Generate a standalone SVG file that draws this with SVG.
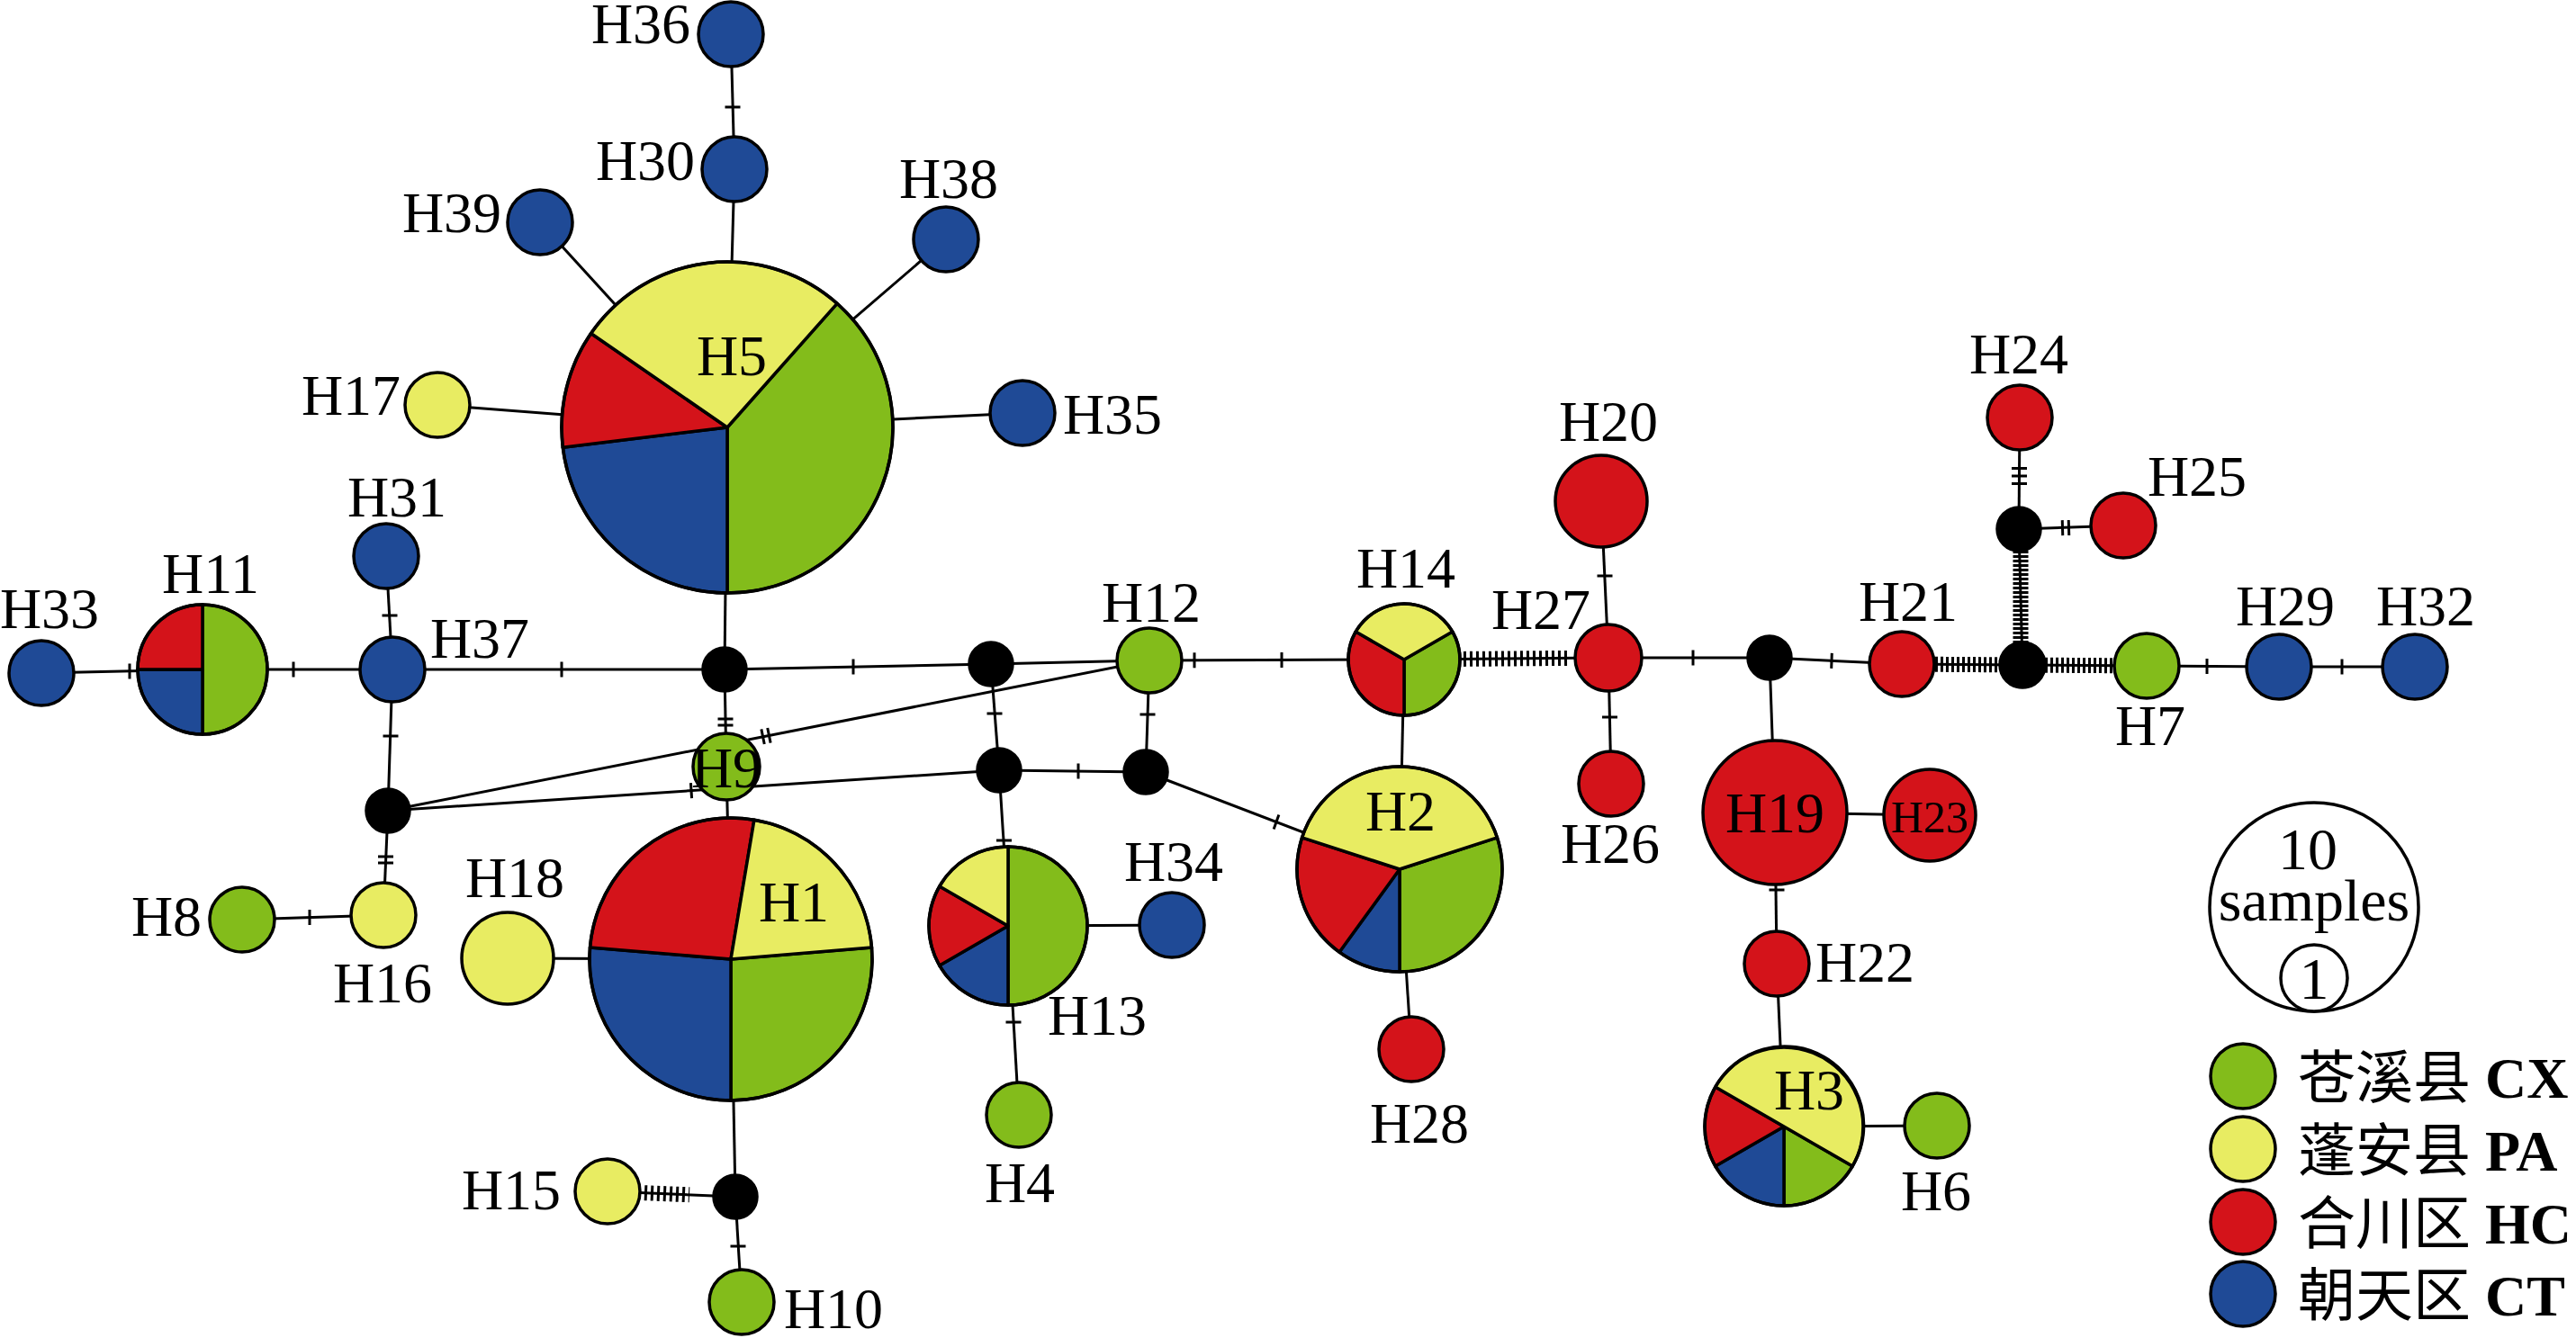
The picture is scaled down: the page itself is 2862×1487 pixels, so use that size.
<svg xmlns="http://www.w3.org/2000/svg" width="2862" height="1487" viewBox="0 0 2862 1487">
<style>
.e{stroke:#000;stroke-width:3;fill:none}
.t{stroke:#000;stroke-width:17;fill:none}
.n circle,.n path{stroke:#000;stroke-width:3.5;stroke-linejoin:round}
.g{fill:#83BC1B}.y{fill:#E8EC62}.r{fill:#D4131A}.b{fill:#1F4A96}.k{fill:#000}.w{fill:#fff}
.o{fill:none}
text{font-family:"Liberation Serif","Times New Roman",serif;font-size:64px;fill:#000;text-anchor:middle}
.lg{font-size:66px}
.cj{font-family:"Liberation Serif","Noto Sans CJK SC",serif;text-anchor:start}
</style>
<rect width="2862" height="1487" fill="#fff"/>
<g id="connectors">
<line class="e" x1="812" y1="38" x2="816" y2="188"/>
<line class="e" x1="816" y1="188" x2="808" y2="475"/>
<line class="e" x1="600" y1="247" x2="808" y2="475"/>
<line class="e" x1="1051" y1="266" x2="808" y2="475"/>
<line class="e" x1="486" y1="450" x2="808" y2="475"/>
<line class="e" x1="1136" y1="459" x2="808" y2="475"/>
<line class="e" x1="808" y1="475" x2="805" y2="744"/>
<line class="e" x1="805" y1="744" x2="807" y2="852"/>
<line class="e" x1="807" y1="852" x2="812" y2="1066"/>
<line class="e" x1="805" y1="744" x2="436" y2="744"/>
<line class="e" x1="436" y1="744" x2="225" y2="744"/>
<line class="e" x1="225" y1="744" x2="46" y2="748"/>
<line class="e" x1="436" y1="744" x2="429" y2="618"/>
<line class="e" x1="436" y1="744" x2="431" y2="901"/>
<line class="e" x1="431" y1="901" x2="426" y2="1017"/>
<line class="e" x1="426" y1="1017" x2="269" y2="1022"/>
<line class="e" x1="431" y1="901" x2="1277" y2="734"/>
<line class="e" x1="431" y1="901" x2="1110" y2="856"/>
<line class="e" x1="805" y1="744" x2="1101" y2="738"/>
<line class="e" x1="1101" y1="738" x2="1277" y2="734"/>
<line class="e" x1="1101" y1="738" x2="1110" y2="856"/>
<line class="e" x1="1110" y1="856" x2="1273" y2="858"/>
<line class="e" x1="1277" y1="734" x2="1273" y2="858"/>
<line class="e" x1="1110" y1="856" x2="1116" y2="950"/>
<line class="e" x1="1120" y1="1029" x2="1302" y2="1028"/>
<line class="e" x1="1120" y1="1029" x2="1132" y2="1239"/>
<line class="e" x1="1273" y1="858" x2="1555" y2="966"/>
<line class="e" x1="1277" y1="734" x2="1560" y2="733"/>
<line class="e" x1="1560" y1="733" x2="1555" y2="966"/>
<line class="e" x1="1555" y1="966" x2="1568" y2="1166"/>
<line class="e" x1="1560" y1="733" x2="1787" y2="731"/>
<line class="e" x1="1787" y1="731" x2="1779" y2="557"/>
<line class="e" x1="1787" y1="731" x2="1790" y2="871"/>
<line class="e" x1="1787" y1="731" x2="1966" y2="731"/>
<line class="e" x1="1966" y1="731" x2="2113" y2="738"/>
<line class="e" x1="1966" y1="731" x2="1972" y2="903"/>
<line class="e" x1="1972" y1="903" x2="2144" y2="906"/>
<line class="e" x1="1972" y1="903" x2="1974" y2="1071"/>
<line class="e" x1="1974" y1="1071" x2="1982" y2="1252"/>
<line class="e" x1="1982" y1="1252" x2="2152" y2="1251"/>
<line class="e" x1="2113" y1="738" x2="2247" y2="739"/>
<line class="e" x1="2247" y1="739" x2="2385" y2="740"/>
<line class="e" x1="2247" y1="739" x2="2243" y2="588"/>
<line class="e" x1="2243" y1="588" x2="2244" y2="464"/>
<line class="e" x1="2243" y1="588" x2="2359" y2="584"/>
<line class="e" x1="2385" y1="740" x2="2532" y2="741"/>
<line class="e" x1="2532" y1="741" x2="2683" y2="741"/>
<line class="e" x1="812" y1="1066" x2="817" y2="1330"/>
<line class="e" x1="817" y1="1330" x2="675" y2="1324"/>
<line class="e" x1="817" y1="1330" x2="824" y2="1447"/>
<line class="e" x1="564" y1="1065" x2="812" y2="1066"/>
<!-- mutation ticks -->
<line class="t" x1="814" y1="117.5" x2="814" y2="120.5"/>
<line class="t" x1="806" y1="797.5" x2="806" y2="807.5" stroke-dasharray="3 4"/>
<line class="t" x1="622.5" y1="744" x2="625.5" y2="744"/>
<line class="t" x1="324.5" y1="744" x2="327.5" y2="744"/>
<line class="t" x1="142.5" y1="746" x2="145.5" y2="746"/>
<line class="t" x1="433" y1="682.5" x2="433" y2="685.5"/>
<line class="t" x1="434" y1="816.5" x2="434" y2="819.5"/>
<line class="t" x1="428.5" y1="950.5" x2="428.5" y2="960.5" stroke-dasharray="3 4"/>
<line class="t" x1="342.5" y1="1019.5" x2="345.5" y2="1019.5"/>
<line class="t" x1="846.1" y1="819" x2="855.9" y2="817" stroke-dasharray="3 4"/>
<line class="t" x1="766.5" y1="878.8" x2="769.5" y2="878.6"/>
<line class="t" x1="946.5" y1="741" x2="949.5" y2="741"/>
<line class="t" x1="1105" y1="791.5" x2="1105" y2="794.5"/>
<line class="t" x1="1196.5" y1="857" x2="1199.5" y2="857"/>
<line class="t" x1="1275" y1="792.5" x2="1275" y2="795.5"/>
<line class="t" x1="1115.5" y1="932.5" x2="1115.5" y2="935.5"/>
<line class="t" x1="1126" y1="1134.5" x2="1126" y2="1137.5"/>
<line class="t" x1="1416.6" y1="913" x2="1419.4" y2="914"/>
<line class="t" x1="1325.5" y1="733.8" x2="1328.5" y2="733.8"/>
<line class="t" x1="1422.5" y1="733.5" x2="1425.5" y2="733.5"/>
<line class="t" x1="1626" y1="732.4" x2="1742" y2="731.4" stroke-dasharray="3 4"/>
<line class="t" x1="1783" y1="638.5" x2="1783" y2="641.5"/>
<line class="t" x1="1788.5" y1="795.5" x2="1788.5" y2="798.5"/>
<line class="t" x1="1879.5" y1="731" x2="1882.5" y2="731"/>
<line class="t" x1="2033.5" y1="734.3" x2="2036.5" y2="734.4"/>
<line class="t" x1="1974" y1="987.5" x2="1974" y2="990.5"/>
<line class="t" x1="2150" y1="738.3" x2="2224" y2="738.8" stroke-dasharray="3 3"/>
<line class="t" x1="2272" y1="739.2" x2="2348" y2="739.7" stroke-dasharray="3 3"/>
<line class="t" x1="2245" y1="612" x2="2245" y2="716" stroke-dasharray="3 2" stroke-width="20"/>
<line class="t" x1="2243.5" y1="519" x2="2243.5" y2="539" stroke-dasharray="3 5.5"/>
<line class="t" x1="2290" y1="586.7" x2="2300" y2="586.4" stroke-dasharray="3 4"/>
<line class="t" x1="2450.5" y1="740.5" x2="2453.5" y2="740.5"/>
<line class="t" x1="2600.5" y1="741" x2="2603.5" y2="741"/>
<line class="t" x1="716" y1="1325.7" x2="766" y2="1327.8" stroke-dasharray="3 4"/>
<line class="t" x1="820" y1="1383.5" x2="820" y2="1386.5"/>
</g>
<g id="H36" class="n"><circle class="b" cx="812" cy="38" r="36"/></g>
<g id="H30" class="n"><circle class="b" cx="816" cy="188" r="36"/></g>
<g id="H39" class="n"><circle class="b" cx="600" cy="247" r="36"/></g>
<g id="H38" class="n"><circle class="b" cx="1051" cy="266" r="36"/></g>
<g id="H5" class="n">
<path class="g" d="M808,475 L930,337.3 A184,184 0 0 1 808,659 Z"/>
<path class="b" d="M808,475 L808,659 A184,184 0 0 1 625.3,497.2 Z"/>
<path class="r" d="M808,475 L625.3,497.2 A184,184 0 0 1 656.6,370.5 Z"/>
<path class="y" d="M808,475 L656.6,370.5 A184,184 0 0 1 930,337.3 Z"/>
<circle class="o" cx="808" cy="475" r="184"/>
</g>
<g id="H17" class="n"><circle class="y" cx="486" cy="450" r="36"/></g>
<g id="H35" class="n"><circle class="b" cx="1136" cy="459" r="36"/></g>
<g id="H31" class="n"><circle class="b" cx="429" cy="618" r="36"/></g>
<g id="H33" class="n"><circle class="b" cx="46" cy="748" r="36"/></g>
<g id="H11" class="n">
<path class="g" d="M225,744 L225,672 A72,72 0 0 1 225,816 Z"/>
<path class="b" d="M225,744 L225,816 A72,72 0 0 1 153,744 Z"/>
<path class="r" d="M225,744 L153,744 A72,72 0 0 1 225,672 Z"/>
<circle class="o" cx="225" cy="744" r="72"/>
</g>
<g id="H37" class="n"><circle class="b" cx="436" cy="744" r="36"/></g>
<g id="mvA" class="n"><circle class="k" cx="805" cy="744" r="24"/></g>
<g id="mvD" class="n"><circle class="k" cx="1101" cy="738" r="24"/></g>
<g id="H12" class="n"><circle class="g" cx="1277" cy="734" r="36"/></g>
<g id="H14" class="n">
<path class="g" d="M1560,733 L1613.7,702 A62,62 0 0 1 1560,795 Z"/>
<path class="r" d="M1560,733 L1560,795 A62,62 0 0 1 1506.3,702 Z"/>
<path class="y" d="M1560,733 L1506.3,702 A62,62 0 0 1 1613.7,702 Z"/>
<circle class="o" cx="1560" cy="733" r="62"/>
</g>
<g id="H27" class="n"><circle class="r" cx="1787" cy="731" r="37"/></g>
<g id="H20" class="n"><circle class="r" cx="1779" cy="557" r="51"/></g>
<g id="H26" class="n"><circle class="r" cx="1790" cy="871" r="36"/></g>
<g id="mvF" class="n"><circle class="k" cx="1966" cy="731" r="24"/></g>
<g id="H21" class="n"><circle class="r" cx="2113" cy="738" r="36"/></g>
<g id="mvG" class="n"><circle class="k" cx="2247" cy="739" r="25"/></g>
<g id="mvH" class="n"><circle class="k" cx="2243" cy="588" r="24"/></g>
<g id="H24" class="n"><circle class="r" cx="2244" cy="464" r="36"/></g>
<g id="H25" class="n"><circle class="r" cx="2359" cy="584" r="36"/></g>
<g id="H7" class="n"><circle class="g" cx="2385" cy="740" r="36"/></g>
<g id="H29" class="n"><circle class="b" cx="2532" cy="741" r="36"/></g>
<g id="H32" class="n"><circle class="b" cx="2683" cy="741" r="36"/></g>
<g id="H9" class="n"><circle class="g" cx="807" cy="852" r="37"/></g>
<g id="mvB" class="n"><circle class="k" cx="431" cy="901" r="24"/></g>
<g id="mvC" class="n"><circle class="k" cx="1110" cy="856" r="24"/></g>
<g id="mvE" class="n"><circle class="k" cx="1273" cy="858" r="24"/></g>
<g id="H1" class="n">
<path class="g" d="M812,1066 L968.5,1053.1 A157,157 0 0 1 812,1223 Z"/>
<path class="b" d="M812,1066 L812,1223 A157,157 0 0 1 655.5,1053.1 Z"/>
<path class="r" d="M812,1066 L655.5,1053.1 A157,157 0 0 1 837.9,911.2 Z"/>
<path class="y" d="M812,1066 L837.9,911.2 A157,157 0 0 1 968.5,1053.1 Z"/>
<circle class="o" cx="812" cy="1066" r="157"/>
</g>
<g id="H18" class="n"><circle class="y" cx="564" cy="1065" r="51"/></g>
<g id="H16" class="n"><circle class="y" cx="426" cy="1017" r="36"/></g>
<g id="H8" class="n"><circle class="g" cx="269" cy="1022" r="36"/></g>
<g id="H13" class="n">
<path class="g" d="M1120,1029 L1120,941 A88,88 0 0 1 1120,1117 Z"/>
<path class="b" d="M1120,1029 L1120,1117 A88,88 0 0 1 1043.8,1073 Z"/>
<path class="r" d="M1120,1029 L1043.8,1073 A88,88 0 0 1 1043.8,985 Z"/>
<path class="y" d="M1120,1029 L1043.8,985 A88,88 0 0 1 1120,941 Z"/>
<circle class="o" cx="1120" cy="1029" r="88"/>
</g>
<g id="H34" class="n"><circle class="b" cx="1302" cy="1028" r="36"/></g>
<g id="H4" class="n"><circle class="g" cx="1132" cy="1239" r="36"/></g>
<g id="H2" class="n">
<path class="g" d="M1555,966 L1663.4,930.8 A114,114 0 0 1 1555,1080 Z"/>
<path class="b" d="M1555,966 L1555,1080 A114,114 0 0 1 1488,1058.2 Z"/>
<path class="r" d="M1555,966 L1488,1058.2 A114,114 0 0 1 1446.6,930.8 Z"/>
<path class="y" d="M1555,966 L1446.6,930.8 A114,114 0 0 1 1663.4,930.8 Z"/>
<circle class="o" cx="1555" cy="966" r="114"/>
</g>
<g id="H28" class="n"><circle class="r" cx="1568" cy="1166" r="36"/></g>
<g id="H19" class="n"><circle class="r" cx="1972" cy="903" r="80"/></g>
<g id="H23" class="n"><circle class="r" cx="2144" cy="906" r="51"/></g>
<g id="H22" class="n"><circle class="r" cx="1974" cy="1071" r="36"/></g>
<g id="H3" class="n">
<path class="g" d="M1982,1252 L2058.2,1296 A88,88 0 0 1 1982,1340 Z"/>
<path class="b" d="M1982,1252 L1982,1340 A88,88 0 0 1 1905.8,1296 Z"/>
<path class="r" d="M1982,1252 L1905.8,1296 A88,88 0 0 1 1905.8,1208 Z"/>
<path class="y" d="M1982,1252 L1905.8,1208 A88,88 0 1 1 2058.2,1296 Z"/>
<circle class="o" cx="1982" cy="1252" r="88"/>
</g>
<g id="H6" class="n"><circle class="g" cx="2152" cy="1251" r="36"/></g>
<g id="mvI" class="n"><circle class="k" cx="817" cy="1330" r="24"/></g>
<g id="H15" class="n"><circle class="y" cx="675" cy="1324" r="36"/></g>
<g id="H10" class="n"><circle class="g" cx="824" cy="1447" r="36"/></g>
<g id="labels">
<text x="712" y="48">H36</text>
<text x="717" y="200">H30</text>
<text x="502" y="258">H39</text>
<text x="1054" y="220">H38</text>
<text x="390" y="461">H17</text>
<text x="813" y="417">H5</text>
<text x="1236" y="482">H35</text>
<text x="441" y="574">H31</text>
<text x="234" y="659">H11</text>
<text x="55" y="698">H33</text>
<text x="533" y="731">H37</text>
<text x="185" y="1040">H8</text>
<text x="425" y="1114">H16</text>
<text x="572" y="997">H18</text>
<text x="882" y="1024">H1</text>
<text x="807" y="875">H9</text>
<text x="568" y="1344">H15</text>
<text x="926" y="1476">H10</text>
<text x="1279" y="691">H12</text>
<text x="1562" y="653">H14</text>
<text x="1712" y="699">H27</text>
<text x="1787" y="490">H20</text>
<text x="1789" y="959">H26</text>
<text x="1556" y="923">H2</text>
<text x="1304" y="979">H34</text>
<text x="1219" y="1150">H13</text>
<text x="1133" y="1336">H4</text>
<text x="1577" y="1270">H28</text>
<text x="1972" y="925">H19</text>
<text x="2144" y="925" style="font-size:50px">H23</text>
<text x="2072" y="1091">H22</text>
<text x="2010" y="1233">H3</text>
<text x="2151" y="1345">H6</text>
<text x="2120" y="690">H21</text>
<text x="2243" y="415">H24</text>
<text x="2441" y="551">H25</text>
<text x="2389" y="828">H7</text>
<text x="2539" y="695">H29</text>
<text x="2695" y="695">H32</text>
</g>
<g id="legend">
<g id="size-key" class="n">
<circle class="w" cx="2571" cy="1008" r="116"/>
<circle class="w" cx="2571" cy="1087" r="37"/>
</g>
<text class="lg" x="2564" y="966">10</text>
<text class="lg" x="2571" y="1023">samples</text>
<text class="lg" x="2571" y="1110">1</text>
<g id="key-CX" class="n"><circle class="g" cx="2492" cy="1196" r="36"/></g>
<g id="key-PA" class="n"><circle class="y" cx="2492" cy="1277" r="36"/></g>
<g id="key-HC" class="n"><circle class="r" cx="2492" cy="1358" r="36"/></g>
<g id="key-CT" class="n"><circle class="b" cx="2492" cy="1438" r="36"/></g>
<text class="cj" x="2553" y="1220">苍溪县 <tspan font-weight="bold">CX</tspan></text>
<text class="cj" x="2553" y="1301">蓬安县 <tspan font-weight="bold">PA</tspan></text>
<text class="cj" x="2553" y="1382">合川区 <tspan font-weight="bold">HC</tspan></text>
<text class="cj" x="2553" y="1462">朝天区 <tspan font-weight="bold">CT</tspan></text>
</g>
</svg>
